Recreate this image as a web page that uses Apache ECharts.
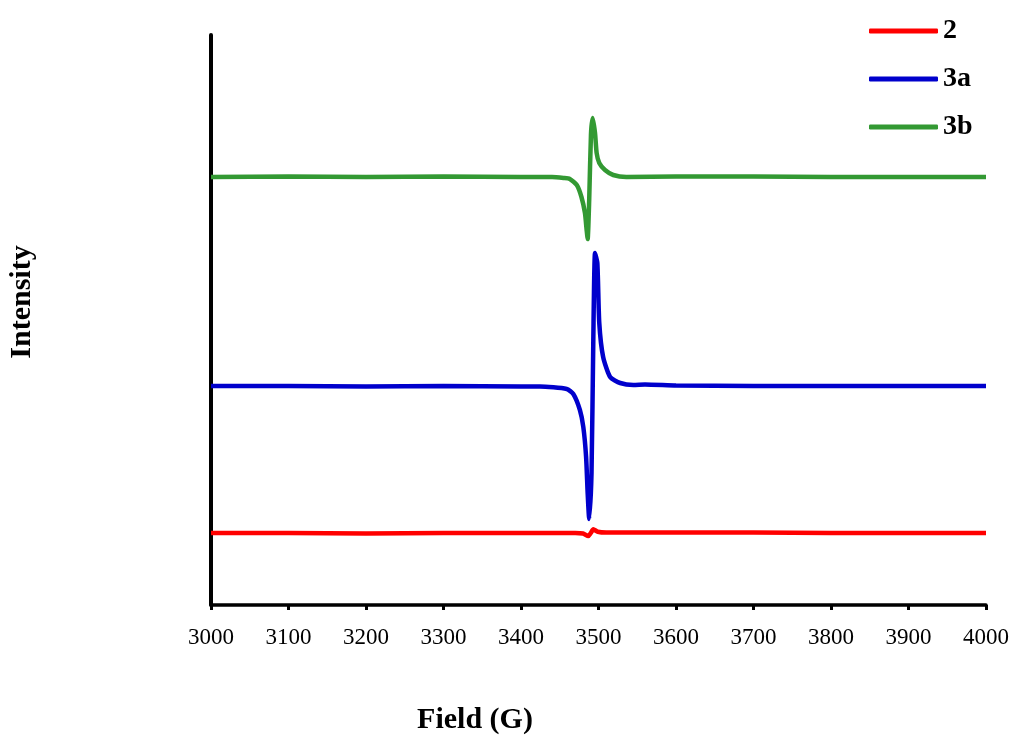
<!DOCTYPE html>
<html>
<head>
<meta charset="utf-8">
<script src="https://cdn.jsdelivr.net/npm/echarts@6/dist/echarts.min.js"></script>
<style>html,body{margin:0;padding:0;background:#fff;}#c{width:1013px;height:740px;}</style>
</head>
<body>
<div id="c"></div>
<script>
// Data (arbitrary intensity units)
const seriesNames = ['2', '3a', '3b'];

const field2 = [3000,3100,3200,3300,3400,3470,3480,3486.8,3490,3493.3,3499,3510,3600,3700,3800,3900,4000];
const int2   = [72,72,71.5,72,72,72,71.5,69,72,75.7,73.3,72.5,72.5,72.5,72,72,72];

const field3a = [3000,3100,3200,3300,3400,3424.5,3459,3467.5,3476,3480.4,3484,3486,3488,3491,3493.3,3495.5,3498.5,3501,3506,3515,3528,3545,3560,3600,3700,3800,3900,4000];
const int3a   = [219,219,218.5,219,218.5,218.5,216,211,195,178,148,112,86,132,265,352,342,282,248,228,222,220,220.5,219.5,219,219,219,219];

const field3b = [3000,3100,3200,3300,3400,3440,3455,3463,3472,3478,3482.5,3484.7,3486,3488,3490.3,3492.5,3495.5,3497.6,3501,3508.4,3519,3536,3600,3700,3800,3900,4000];
const int3b   = [428,428.5,428,428.5,428,428,427,426,420,408,392,375,366,405,471,487,472,452,442,435,430,428,428.5,428.5,428,428,428];

const xTicks = [3000,3100,3200,3300,3400,3500,3600,3700,3800,3900,4000];

const pairs = (xs, ys) => xs.map((x, i) => [x, ys[i]]);
const colors = ['#ff0000', '#0000cc', '#339933'];
const serif = '"Liberation Serif", "Times New Roman", serif';

const chart = echarts.init(document.getElementById('c'));
chart.setOption({
  animation: false,
  backgroundColor: '#ffffff',
  grid: { left: 211, right: 27, top: 35, bottom: 135, containLabel: false },
  legend: {
    orient: 'vertical',
    left: 864,
    top: 12,
    itemWidth: 69,
    itemHeight: 5,
    itemGap: 20,
    icon: 'roundRect',
    data: seriesNames,
    textStyle: { fontFamily: serif, fontWeight: 'bold', fontSize: 28, color: '#000', lineHeight: 24 }
  },
  xAxis: {
    type: 'value',
    min: xTicks[0],
    max: xTicks[xTicks.length - 1],
    interval: 100,
    axisLine: { show: true, lineStyle: { color: '#000', width: 3.5 } },
    axisTick: { show: true, length: 5, lineStyle: { color: '#000', width: 3 } },
    axisLabel: { color: '#000', fontFamily: serif, fontSize: 23, margin: 21, formatter: v => String(v) },
    splitLine: { show: false }
  },
  yAxis: {
    type: 'value',
    min: 0,
    max: 570,
    axisLine: { show: true, lineStyle: { color: '#000', width: 4 } },
    axisTick: { show: false },
    axisLabel: { show: false },
    splitLine: { show: false }
  },
  graphic: [
    {
      type: 'text', x: 475, y: 720,
      style: { text: 'Field (G)', fontFamily: serif, fontWeight: 'bold', fontSize: 30, fill: '#000', align: 'center', verticalAlign: 'middle' }
    },
    {
      type: 'text', x: 22, y: 302, rotation: Math.PI / 2,
      style: { text: 'Intensity', fontFamily: serif, fontWeight: 'bold', fontSize: 30, fill: '#000', align: 'center', verticalAlign: 'middle' }
    }
  ],
  series: [
    { name: seriesNames[0], type: 'line', data: pairs(field2, int2), showSymbol: false, smooth: 0.2, color: colors[0], lineStyle: { width: 4.5, color: colors[0] } },
    { name: seriesNames[1], type: 'line', data: pairs(field3a, int3a), showSymbol: false, smooth: 0.2, color: colors[1], lineStyle: { width: 4.5, color: colors[1] } },
    { name: seriesNames[2], type: 'line', data: pairs(field3b, int3b), showSymbol: false, smooth: 0.2, color: colors[2], lineStyle: { width: 4.5, color: colors[2] } }
  ]
});
</script>
</body>
</html>
